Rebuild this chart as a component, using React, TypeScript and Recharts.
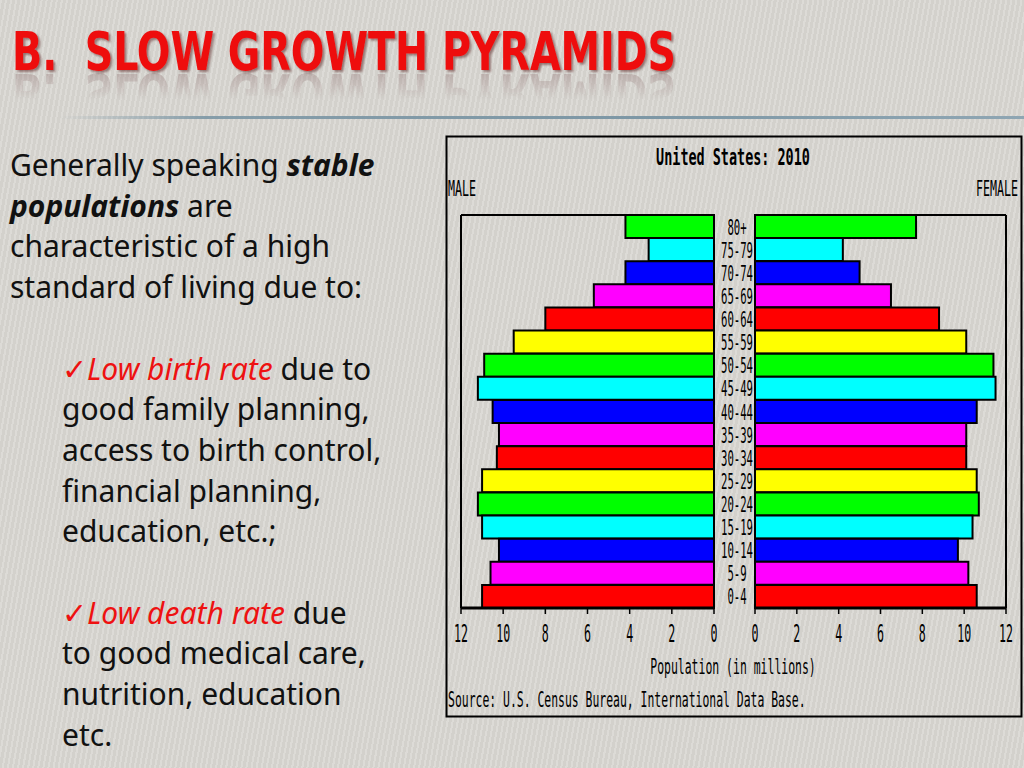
import React from 'react';
import { BarChart, Bar, XAxis, YAxis, Cell } from 'recharts';

const ages = ['80+', '75-79', '70-74', '65-69', '60-64', '55-59', '50-54', '45-49', '40-44', '35-39', '30-34', '25-29', '20-24', '15-19', '10-14', '5-9', '0-4'];
const male = [4.2, 3.1, 4.2, 5.7, 8.0, 9.5, 10.9, 11.2, 10.5, 10.2, 10.3, 11.0, 11.2, 11.0, 10.2, 10.6, 11.0];
const female = [7.7, 4.2, 5.0, 6.5, 8.8, 10.1, 11.4, 11.5, 10.6, 10.1, 10.1, 10.6, 10.7, 10.4, 9.7, 10.2, 10.6];
const barColors = ['#00ff00', '#00ffff', '#0000ff', '#ff00ff', '#ff0000', '#ffff00'];
const xTicks = [0, 2, 4, 6, 8, 10, 12];

const data = ages.map((age, i) => ({ age, male: male[i], female: female[i] }));

const MONO = "'DejaVu Sans Mono', 'Liberation Mono', monospace";
const TITLE_FONT = "'Liberation Sans Narrow', 'DejaVu Sans Condensed', sans-serif";
const ADV = 0.602; // DejaVu Sans Mono advance width per em

// monospace text squeezed horizontally to a per-character width
const Squeezed = ({ x, y, s, size, charW, anchor = 'start', weight = 'normal' }: any) => {
  const sx = charW / (ADV * size);
  return (
    <text transform={`translate(${x},${y}) scale(${sx.toFixed(4)},1)`} textAnchor={anchor}
      fontFamily={MONO} fontSize={size} fontWeight={weight} fill="#000">{s}</text>
  );
};

const XTick = (props: any) => {
  const { x, y, payload } = props;
  return <Squeezed x={x} y={y + 26} s={String(payload.value)} size={25} charW={7} anchor="middle" />;
};

const AgeTick = (props: any) => {
  const { x, y, payload } = props;
  return <Squeezed x={x - 18} y={y + 8} s={String(payload.value)} size={22} charW={6.4} anchor="middle" />;
};

export default function App() {
  const red = '#ee1111';
  return (
    <div style={{
      position: 'absolute', left: 0, top: 0, width: 1024, height: 768, overflow: 'hidden',
      background: '#d7d5d0',
      backgroundImage: 'repeating-linear-gradient(100deg, rgba(255,255,255,0.14) 0px, rgba(255,255,255,0.14) 2px, rgba(0,0,0,0.02) 2px, rgba(0,0,0,0.02) 5px)',
    }}>
      {/* title */}
      <svg width={1024} height={120} style={{ position: 'absolute', left: 0, top: 0 }}>
        <defs>
          <linearGradient id="fade" x1="0" y1="0" x2="0" y2="1">
            <stop offset="0" stopColor="#fff" stopOpacity="0.35" />
            <stop offset="1" stopColor="#fff" stopOpacity="0" />
          </linearGradient>
          <mask id="refl" maskUnits="userSpaceOnUse" x="0" y="70" width="1024" height="40">
            <rect x="0" y="72" width="1024" height="28" fill="url(#fade)" />
          </mask>
          <filter id="shadow" x="-5%" y="-20%" width="110%" height="150%">
            <feDropShadow dx="2" dy="2" stdDeviation="1" floodColor="#400000" floodOpacity="0.45" />
          </filter>
          <text id="titleText" x={12} y={70} fontFamily={TITLE_FONT} fontWeight="bold"
            fontSize={54} textLength={664} lengthAdjust="spacingAndGlyphs" style={{ whiteSpace: 'pre' }}>B.  SLOW GROWTH PYRAMIDS</text>
        </defs>
        <g mask="url(#refl)">
          <use href="#titleText" fill="#8a6a6a" transform="translate(0,144) scale(1,-1)" />
        </g>
        <use href="#titleText" fill={red} filter="url(#shadow)" />
      </svg>
      <div style={{
        position: 'absolute', left: 60, top: 116, width: 964, height: 3,
        background: 'linear-gradient(to right, rgba(125,151,165,0) 0%, rgba(125,151,165,0.9) 15%, #7d97a5 60%, #8fa6b3 100%)',
      }} />

      {/* left text */}
      <div style={{
        position: 'absolute', left: 10, top: 145, width: 436,
        fontFamily: "'Noto Sans', 'Open Sans', sans-serif", fontSize: 30, lineHeight: '40.7px', color: '#111',
        whiteSpace: 'nowrap',
      }}>
        <div>Generally speaking <b><i>stable</i></b></div>
        <div><b><i>populations</i></b> are</div>
        <div>characteristic of a high</div>
        <div>standard of living due to:</div>
        <div>&nbsp;</div>
        <div style={{ paddingLeft: 52 }}>
          <div><span style={{ color: red }}>✓<i>Low birth rate</i></span> due to</div>
          <div>good family planning,</div>
          <div>access to birth control,</div>
          <div>financial planning,</div>
          <div>education, etc.;</div>
          <div>&nbsp;</div>
          <div><span style={{ color: red }}>✓<i>Low death rate</i></span> due</div>
          <div>to good medical care,</div>
          <div>nutrition, education</div>
          <div>etc.</div>
        </div>
      </div>

      {/* chart box and texts */}
      <svg width={1024} height={768} style={{ position: 'absolute', left: 0, top: 0, pointerEvents: 'none' }}>
        <rect x={446.5} y={136.5} width={575} height={580} fill="none" stroke="#000" strokeWidth={2} />
        <Squeezed x={733} y={165} s="United States: 2010" size={23} charW={8.1} anchor="middle" weight="bold" />
        <Squeezed x={448} y={196} s="MALE" size={22} charW={7} />
        <Squeezed x={1018} y={196} s="FEMALE" size={22} charW={7} anchor="end" />
        <Squeezed x={733} y={674} s="Population (in millions)" size={22} charW={6.9} anchor="middle" />
        <Squeezed x={448} y={707} s="Source: U.S. Census Bureau, International Data Base." size={22} charW={6.88} />
      </svg>

      {/* male chart */}
      <div style={{ position: 'absolute', left: 446, top: 200 }}>
        <BarChart layout="vertical" width={274} height={448} data={data}
          margin={{ top: 14, right: 6, left: 14, bottom: 0 }} barCategoryGap={0}>
          <XAxis xAxisId="b" type="number" domain={[0, 12]} reversed ticks={xTicks} interval={0} height={40}
            tickSize={6} tickMargin={2} axisLine={{ stroke: '#000', strokeWidth: 3 }}
            tickLine={{ stroke: '#000', strokeWidth: 1.5 }} tick={(p: any) => <XTick {...p} />} />
          <XAxis xAxisId="t" type="number" orientation="top" domain={[0, 12]} reversed height={1}
            tick={false} tickLine={false} axisLine={{ stroke: '#000', strokeWidth: 2 }} />
          <YAxis type="category" dataKey="age" width={1} tick={false} tickLine={false}
            axisLine={{ stroke: '#000', strokeWidth: 2 }} />
          <Bar xAxisId="b" dataKey="male" stroke="#000" strokeWidth={2} isAnimationActive={false}>
            {data.map((d, i) => <Cell key={d.age} fill={barColors[i % barColors.length]} />)}
          </Bar>
        </BarChart>
      </div>

      {/* female chart */}
      <div style={{ position: 'absolute', left: 714, top: 200 }}>
        <BarChart layout="vertical" width={307} height={448} data={data}
          margin={{ top: 14, right: 14, left: 0, bottom: 0 }} barCategoryGap={0}>
          <XAxis xAxisId="b" type="number" domain={[0, 12]} ticks={xTicks} interval={0} height={40}
            tickSize={6} tickMargin={2} axisLine={{ stroke: '#000', strokeWidth: 3 }}
            tickLine={{ stroke: '#000', strokeWidth: 1.5 }} tick={(p: any) => <XTick {...p} />} />
          <XAxis xAxisId="t" type="number" orientation="top" domain={[0, 12]} height={1}
            tick={false} tickLine={false} axisLine={{ stroke: '#000', strokeWidth: 2 }} />
          <YAxis yAxisId="l" type="category" dataKey="age" width={41} tickSize={0} tickMargin={0}
            tickLine={false} axisLine={false} interval={0} tick={(p: any) => <AgeTick {...p} />} />
          <YAxis yAxisId="r" orientation="right" type="category" dataKey="age" width={1} tick={false}
            tickLine={false} axisLine={{ stroke: '#000', strokeWidth: 2 }} />
          <Bar xAxisId="b" yAxisId="l" dataKey="female" stroke="#000" strokeWidth={2} isAnimationActive={false}>
            {data.map((d, i) => <Cell key={d.age} fill={barColors[i % barColors.length]} />)}
          </Bar>
        </BarChart>
      </div>
    </div>
  );
}
